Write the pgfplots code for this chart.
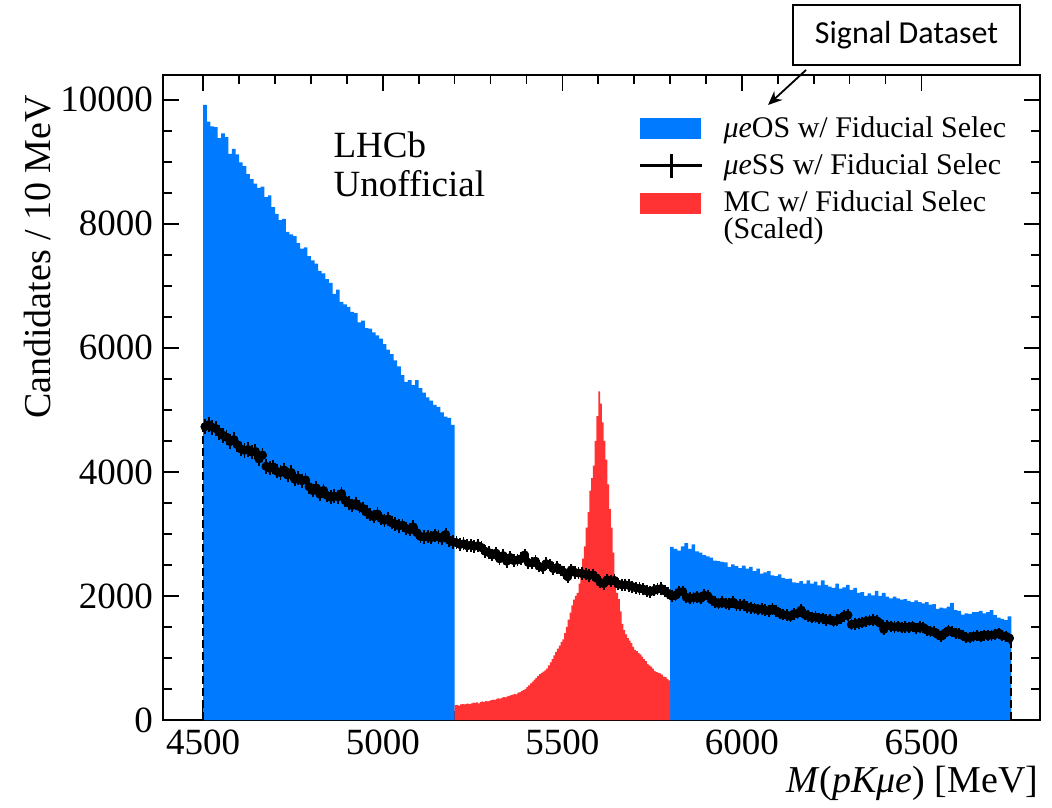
\documentclass[border=0pt]{standalone}
\usepackage{fontspec}
\setmainfont{Liberation Serif}
\newfontfamily\calibri{Carlito}
\usepackage{pgfplots}
\usepackage{pgfplotstable}
\pgfplotsset{compat=1.18}
\usetikzlibrary{arrows.meta}
\definecolor{osblue}{RGB}{0,122,255}
\definecolor{mcred}{RGB}{255,51,51}

\pgfplotstableread[row sep=\\]{
x y\\
4500 9920\\ 4510 9650\\ 4520 9570\\ 4530 9560\\ 4540 9380\\ 4550 9460\\ 4560 9400\\ 4570 9130\\ 4580 9210\\ 4590 9120\\
4600 8990\\ 4610 8930\\ 4620 8800\\ 4630 8720\\ 4640 8650\\ 4650 8580\\ 4660 8600\\ 4670 8430\\ 4680 8460\\ 4690 8270\\
4700 8160\\ 4710 8060\\ 4720 8080\\ 4730 7870\\ 4740 7830\\ 4750 7800\\ 4760 7690\\ 4770 7600\\ 4780 7620\\ 4790 7480\\
4800 7410\\ 4810 7360\\ 4820 7240\\ 4830 7200\\ 4840 7110\\ 4850 7050\\ 4860 6870\\ 4870 6940\\ 4880 6740\\ 4890 6700\\
4900 6660\\ 4910 6580\\ 4920 6560\\ 4930 6410\\ 4940 6440\\ 4950 6320\\ 4960 6310\\ 4970 6250\\ 4980 6200\\ 4990 6150\\
5000 6060\\ 5010 5970\\ 5020 5900\\ 5030 5800\\ 5040 5700\\ 5050 5560\\ 5060 5450\\ 5070 5480\\ 5080 5400\\ 5090 5480\\
5100 5350\\ 5110 5280\\ 5120 5200\\ 5130 5150\\ 5140 5080\\ 5150 5050\\ 5160 4960\\ 5170 4890\\ 5180 4870\\ 5190 4760\\
5200 4760\\
}\blueL

\pgfplotstableread[row sep=\\]{
x y\\
5800 2790\\ 5810 2760\\ 5820 2730\\ 5830 2800\\ 5840 2850\\ 5850 2760\\ 5860 2830\\ 5870 2720\\ 5880 2700\\ 5890 2660\\
5900 2640\\ 5910 2620\\ 5920 2570\\ 5930 2560\\ 5940 2550\\ 5950 2540\\ 5960 2470\\ 5970 2510\\ 5980 2480\\ 5990 2450\\
6000 2490\\ 6010 2440\\ 6020 2470\\ 6030 2400\\ 6040 2440\\ 6050 2360\\ 6060 2380\\ 6070 2400\\ 6080 2330\\ 6090 2320\\
6100 2350\\ 6110 2290\\ 6120 2270\\ 6130 2280\\ 6140 2220\\ 6150 2210\\ 6160 2240\\ 6170 2200\\ 6180 2250\\ 6190 2200\\
6200 2230\\ 6210 2170\\ 6220 2250\\ 6230 2180\\ 6240 2150\\ 6250 2130\\ 6260 2200\\ 6270 2120\\ 6280 2140\\ 6290 2180\\
6300 2100\\ 6310 2130\\ 6320 2050\\ 6330 2060\\ 6340 2000\\ 6350 2040\\ 6360 2010\\ 6370 2080\\ 6380 2000\\ 6390 2050\\
6400 1990\\ 6410 1960\\ 6420 1990\\ 6430 1960\\ 6440 1940\\ 6450 1950\\ 6460 1920\\ 6470 1900\\ 6480 1930\\ 6490 1900\\
6500 1880\\ 6510 1900\\ 6520 1860\\ 6530 1870\\ 6540 1790\\ 6550 1810\\ 6560 1800\\ 6570 1830\\ 6580 1890\\ 6590 1770\\
6600 1760\\ 6610 1700\\ 6620 1720\\ 6630 1710\\ 6640 1740\\ 6650 1740\\ 6660 1760\\ 6670 1720\\ 6680 1740\\ 6690 1770\\
6700 1690\\ 6710 1650\\ 6720 1630\\ 6730 1610\\ 6740 1670\\ 6750 1670\\
}\blueR

\pgfplotstableread[row sep=\\]{
x y\\
5200 240\\ 5205 245\\ 5210 230\\ 5215 250\\ 5220 255\\ 5225 250\\ 5230 260\\ 5235 265\\ 5240 255\\ 5245 270\\
5250 280\\ 5255 275\\ 5260 285\\ 5265 270\\ 5270 290\\ 5275 300\\ 5280 290\\ 5285 305\\ 5290 300\\ 5295 310\\
5300 320\\ 5305 330\\ 5310 325\\ 5315 340\\ 5320 350\\ 5325 345\\ 5330 360\\ 5335 370\\ 5340 365\\ 5345 380\\
5350 390\\ 5355 400\\ 5360 410\\ 5365 420\\ 5370 415\\ 5375 440\\ 5380 450\\ 5385 470\\ 5390 480\\ 5395 500\\
5400 530\\ 5405 560\\ 5410 590\\ 5415 620\\ 5420 650\\ 5425 680\\ 5430 710\\ 5435 740\\ 5440 760\\ 5445 780\\
5450 800\\ 5455 830\\ 5460 880\\ 5465 930\\ 5470 980\\ 5475 1040\\ 5480 1100\\ 5485 1150\\ 5490 1200\\ 5495 1260\\
5500 1300\\ 5505 1400\\ 5510 1500\\ 5515 1620\\ 5520 1730\\ 5525 1850\\ 5530 1940\\ 5535 2000\\ 5540 2050\\ 5545 2200\\
5550 2350\\ 5555 2600\\ 5560 2800\\ 5565 3100\\ 5570 3350\\ 5575 3700\\ 5580 3900\\ 5585 4100\\ 5590 4500\\ 5595 4900\\
5600 5300\\ 5605 5100\\ 5610 4800\\ 5615 4500\\ 5620 4200\\ 5625 3800\\ 5630 3400\\ 5635 3100\\ 5640 2700\\ 5645 2300\\
5650 2050\\ 5655 1950\\ 5660 1750\\ 5665 1550\\ 5670 1450\\ 5675 1380\\ 5680 1320\\ 5685 1280\\ 5690 1240\\ 5695 1180\\
5700 1130\\ 5705 1110\\ 5710 1080\\ 5715 1060\\ 5720 1020\\ 5725 980\\ 5730 950\\ 5735 900\\ 5740 880\\ 5745 860\\
5750 830\\ 5755 790\\ 5760 770\\ 5765 760\\ 5770 750\\ 5775 730\\ 5780 700\\ 5785 690\\ 5790 660\\ 5795 640\\
5800 640\\
}\mcred

\pgfplotstableread[row sep=\\]{
x y\\
4505 4730\\ 4515 4760\\ 4525 4720\\ 4535 4700\\ 4545 4640\\ 4555 4590\\ 4565 4560\\ 4575 4490\\ 4585 4520\\ 4595 4440\\
4605 4370\\ 4615 4350\\ 4625 4360\\ 4635 4320\\ 4645 4330\\ 4655 4210\\ 4665 4270\\ 4675 4090\\ 4685 4060\\ 4695 4080\\
4705 4010\\ 4715 3990\\ 4725 4030\\ 4735 3950\\ 4745 3990\\ 4755 3880\\ 4765 3900\\ 4775 3860\\ 4785 3870\\ 4795 3760\\
4805 3700\\ 4815 3740\\ 4825 3640\\ 4835 3700\\ 4845 3620\\ 4855 3590\\ 4865 3610\\ 4875 3600\\ 4885 3650\\ 4895 3540\\
4905 3500\\ 4915 3460\\ 4925 3490\\ 4935 3440\\ 4945 3410\\ 4955 3350\\ 4965 3310\\ 4975 3280\\ 4985 3320\\ 4995 3250\\
5005 3220\\ 5015 3240\\ 5025 3180\\ 5035 3160\\ 5045 3130\\ 5055 3140\\ 5065 3090\\ 5075 3070\\ 5085 3110\\ 5095 3020\\
5105 2960\\ 5115 2950\\ 5125 2960\\ 5135 2940\\ 5145 2980\\ 5155 2950\\ 5165 2930\\ 5175 2990\\ 5185 2900\\ 5195 2870\\
5205 2860\\ 5215 2830\\ 5225 2840\\ 5235 2810\\ 5245 2820\\ 5255 2800\\ 5265 2810\\ 5275 2780\\ 5285 2720\\ 5295 2700\\
5305 2660\\ 5315 2690\\ 5325 2600\\ 5335 2650\\ 5345 2560\\ 5355 2620\\ 5365 2570\\ 5375 2580\\ 5385 2600\\ 5395 2660\\
5405 2540\\ 5415 2530\\ 5425 2560\\ 5435 2480\\ 5445 2460\\ 5455 2520\\ 5465 2500\\ 5475 2440\\ 5485 2460\\ 5495 2420\\
5505 2380\\ 5515 2310\\ 5525 2420\\ 5535 2380\\ 5545 2370\\ 5555 2360\\ 5565 2350\\ 5575 2330\\ 5585 2340\\ 5595 2290\\
5605 2220\\ 5615 2200\\ 5625 2260\\ 5635 2240\\ 5645 2250\\ 5655 2190\\ 5665 2180\\ 5675 2180\\ 5685 2170\\ 5695 2150\\
5705 2130\\ 5715 2120\\ 5725 2110\\ 5735 2080\\ 5745 2070\\ 5755 2090\\ 5765 2110\\ 5775 2120\\ 5785 2080\\ 5795 2040\\
5805 2000\\ 5815 2010\\ 5825 2060\\ 5835 2070\\ 5845 1980\\ 5855 1960\\ 5865 1970\\ 5875 1990\\ 5885 1960\\ 5895 2010\\
5905 2000\\ 5915 1940\\ 5925 1900\\ 5935 1880\\ 5945 1900\\ 5955 1880\\ 5965 1870\\ 5975 1900\\ 5985 1860\\ 5995 1850\\
6005 1860\\ 6015 1820\\ 6025 1810\\ 6035 1800\\ 6045 1780\\ 6055 1790\\ 6065 1770\\ 6075 1760\\ 6085 1790\\ 6095 1760\\
6105 1720\\ 6115 1700\\ 6125 1690\\ 6135 1670\\ 6145 1710\\ 6155 1720\\ 6165 1770\\ 6175 1700\\ 6185 1680\\ 6195 1650\\
6205 1660\\ 6215 1640\\ 6225 1640\\ 6235 1610\\ 6245 1620\\ 6255 1590\\ 6265 1610\\ 6275 1640\\ 6285 1680\\ 6295 1690\\
6305 1540\\ 6315 1550\\ 6325 1560\\ 6335 1570\\ 6345 1590\\ 6355 1600\\ 6365 1610\\ 6375 1600\\ 6385 1560\\ 6395 1460\\
6405 1520\\ 6415 1510\\ 6425 1500\\ 6435 1510\\ 6445 1490\\ 6455 1500\\ 6465 1490\\ 6475 1510\\ 6485 1480\\ 6495 1500\\
6505 1490\\ 6515 1450\\ 6525 1430\\ 6535 1420\\ 6545 1380\\ 6555 1350\\ 6565 1400\\ 6575 1440\\ 6585 1420\\ 6595 1400\\
6605 1390\\ 6615 1360\\ 6625 1330\\ 6635 1330\\ 6645 1350\\ 6655 1360\\ 6665 1340\\ 6675 1370\\ 6685 1360\\ 6695 1370\\
6705 1380\\ 6715 1400\\ 6725 1360\\ 6735 1350\\ 6745 1320\\
}\ssdata

\begin{document}
\begin{tikzpicture}
\useasboundingbox (-81.5pt,-43.5pt) rectangle (444.5pt,360pt);
\begin{axis}[
  at={(0,0)}, anchor=south west,
  scale only axis, width=438.5pt, height=322.5pt,
  xmin=4388, xmax=6830, ymin=0, ymax=10400,
  clip=false,
  scaled ticks=false,
  axis line style={line width=1pt},
  tick align=inside, tick pos=both,
  xtick={4500,5000,5500,6000,6500}, minor x tick num=4,
  xticklabels={4500,5000,5500,6000,6500},
  ytick={0,2000,4000,6000,8000,10000}, minor y tick num=3,
  yticklabels={0,2000,4000,6000,8000,10000},
  major tick length=8pt, minor tick length=4.5pt,
  every tick/.style={black, line width=0.8pt},
  tick label style={font=\rmfamily\fontsize{18.5}{20}\selectfont},
  yticklabel style={xshift=-1.5pt},
  xticklabel style={yshift=-1.5pt},
  xlabel={\textit{M}(\textit{pKμe}) [MeV]},
  ylabel={Candidates / 10 MeV},
  every axis x label/.style={at={(axis description cs:1.006,-0.098)}, anchor=east, font=\rmfamily\fontsize{19}{22}\selectfont},
  every axis y label/.style={at={(axis description cs:-0.1425,0.98)}, rotate=90, anchor=east, font=\rmfamily\fontsize{19}{22}\selectfont},
  legend cell align=left,
  legend style={draw=none, fill=none, at={(axis description cs:0.535,0.952)}, anchor=north west,
    font=\rmfamily\fontsize{15}{13.5}\selectfont, row sep=0.8pt, column sep=7pt, nodes={align=left, inner sep=3pt}},
]
\addlegendimage{legend image code/.code={\fill[osblue] (0pt,-5pt) rectangle (30pt,5pt);}}
\addlegendentry{\textit{μe}OS w/ Fiducial Selec}
\addlegendimage{legend image code/.code={\draw[line width=1.5pt] (0pt,0pt) -- (31pt,0pt); \draw[line width=1.5pt] (15.5pt,-6pt) -- (15.5pt,6pt);}}
\addlegendentry{\textit{μe}SS w/ Fiducial Selec}
\addlegendimage{legend image code/.code={\fill[mcred] (0pt,1.75pt) rectangle (30pt,11.75pt);}}
\addlegendentry{MC w/ Fiducial Selec\\(Scaled)}

\addplot[forget plot, const plot mark left, fill=osblue, draw=none] table {\blueL} \closedcycle;
\addplot[forget plot, const plot mark left, fill=osblue, draw=none] table {\blueR} \closedcycle;
\addplot[forget plot, const plot mark left, fill=mcred, draw=none] table {\mcred} \closedcycle;
\addplot[forget plot, black, line width=0.9pt, dash pattern=on 4pt off 2pt] coordinates {(4500,0) (4500,4730)};
\addplot[forget plot, black, line width=0.9pt, dash pattern=on 4pt off 2pt] coordinates {(6750,0) (6750,1320)};
\addplot[forget plot, only marks, mark=none, black,
  error bars/.cd, x dir=both, x fixed=5, error mark=none,
  error bar style={line width=1.1pt, black}]
  table[x=x, y=y] {\ssdata};
\addplot[forget plot, only marks, mark=none, black,
  error bars/.cd, y dir=both, y explicit, error mark=-,
  error mark options={black, mark size=1.6pt, line width=0.9pt},
  error bar style={line width=0.9pt, black}]
  table[x=x, y=y, y error expr={sqrt(\thisrow{y})}] {\ssdata};

\node[anchor=north west, inner sep=0pt, align=left, font=\rmfamily\fontsize{18.5}{19.5}\selectfont]
  at (axis cs:4862,9484) {LHCb\\Unofficial};
\node[draw=black, line width=1pt, minimum width=113.5pt, minimum height=30pt, inner sep=0pt,
  font=\calibri\fontsize{16}{18}\selectfont] at (axis description cs:0.8478,1.062) {Signal Dataset};
\draw[line width=0.9pt, -{Stealth[length=7pt,width=6pt]}] (axis description cs:0.7332,1.0078) -- (axis description cs:0.6899,0.9535);
\end{axis}
\end{tikzpicture}
\end{document}
